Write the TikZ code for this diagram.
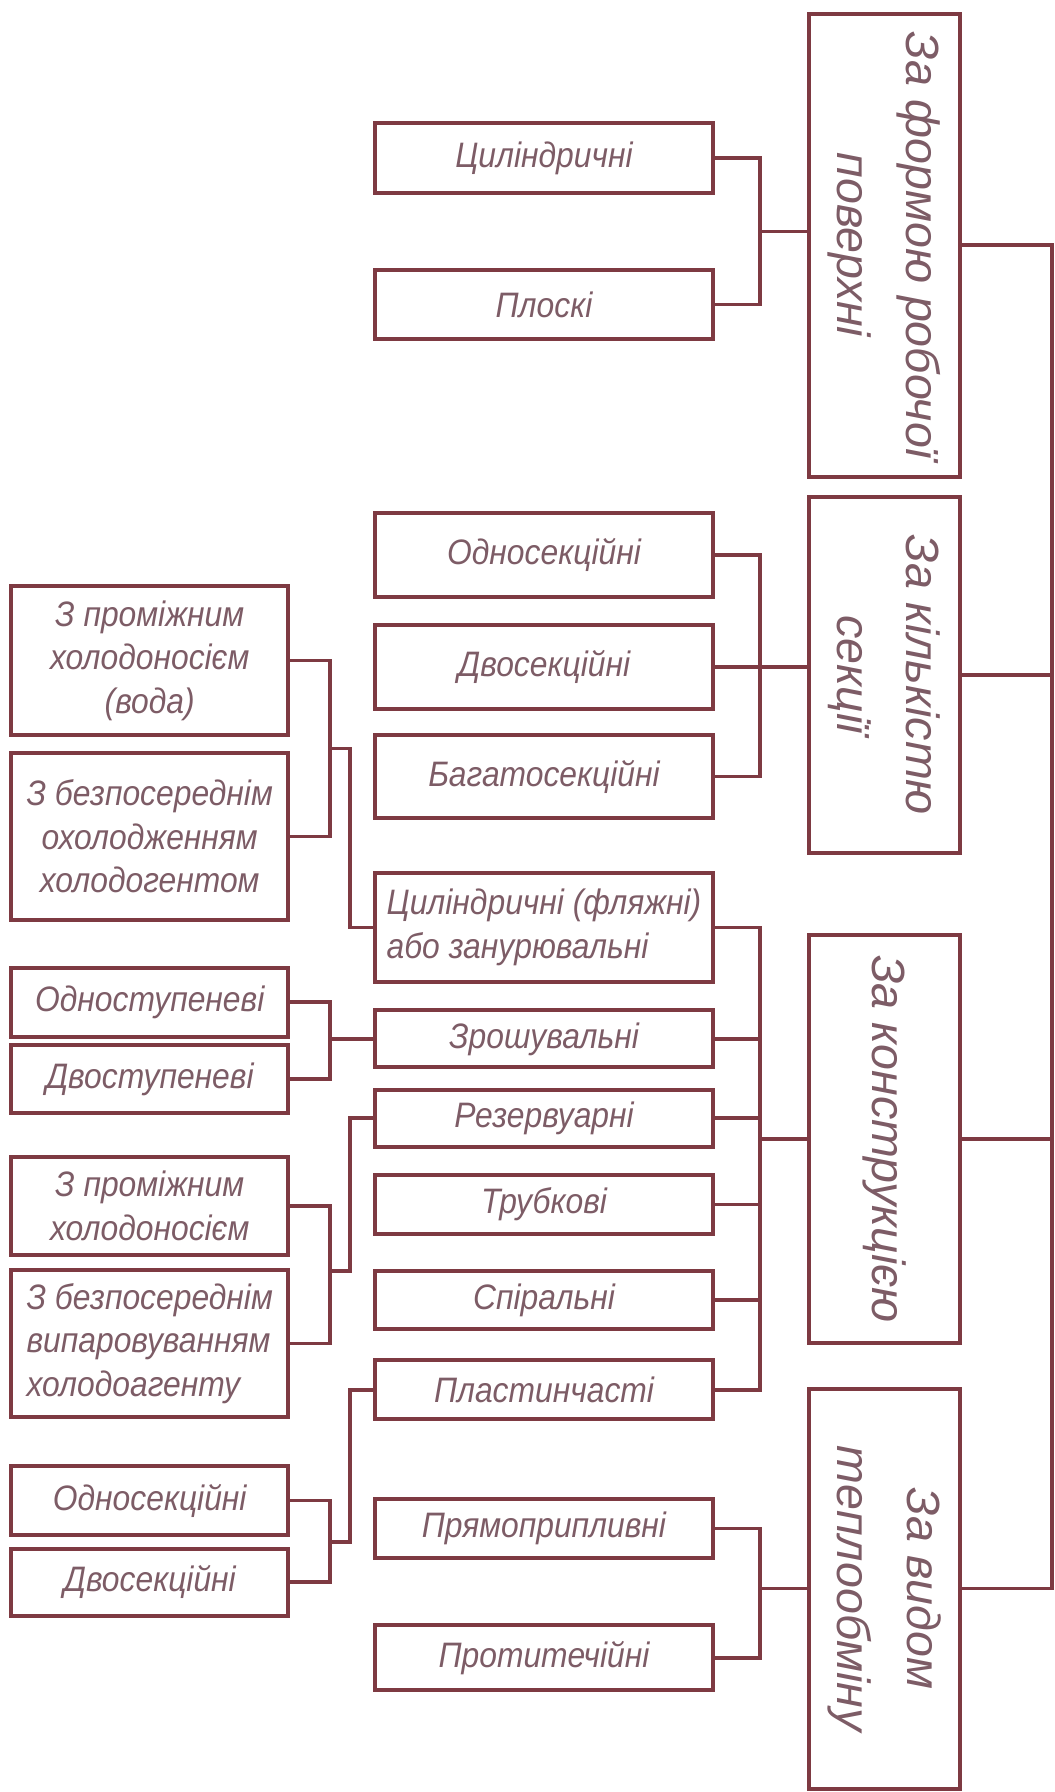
\documentclass[tikz,border=0pt]{standalone}
\usepackage{fontspec}
\setmainfont{Liberation Sans}[FakeStretch=0.9]
\newfontfamily\catfont{Liberation Sans}
\definecolor{frame}{RGB}{126,58,66}
\definecolor{inscr}{RGB}{125,92,102}
\newcommand{\mfont}{\itshape\fontsize{22}{27}\selectfont}
\newcommand{\cfont}{\catfont\itshape\fontsize{29}{43}\selectfont}

\begin{document}
\begin{tikzpicture}[x=0.025cm, y=-0.025cm,
	box/.style={draw=frame, line width=2.5pt, text=inscr, align=center, inner sep=2pt, font=\mfont},
	mid/.style={box, minimum width=7.4cm, minimum height=#1},
	lft/.style={box, minimum width=6.05cm, minimum height=#1},
	cat/.style={box, rotate=-90, minimum height=3.3cm, minimum width=#1, font=\cfont},
	link/.style={draw=frame, line width=2.3pt}]
	
	\useasboundingbox (0,0) rectangle (923,1568);
	
	\node[cat=10.125cm] (form) at (774,214.5) {За формою робочої\\поверхні};
	\node[cat=7.775cm] (sect) at (774,590.5) {За кількістю\\секції};
	\node[cat=8.925cm] (constr) at (774,996.5) {За конструкцією};
	\node[cat=8.75cm] (heat) at (774,1390) {За видом\\теплообміну};
	
	\node[mid=1.525cm] (cyl) at (476,138.5) {Циліндричні};
	\node[mid=1.525cm] (flat) at (476,266.5) {Плоскі};
	
	\node[mid=1.825cm] (one) at (476,485.5) {Односекційні};
	\node[mid=1.825cm] (two) at (476,583.5) {Двосекційні};
	\node[mid=1.825cm] (many) at (476,679.5) {Багатосекційні};
	
	\node[mid=2.375cm, align=left] (imm) at (476,811.5) {Циліндричні (фляжні)\\або занурювальні};
	\node[mid=1.25cm] (irr) at (476,909) {Зрошувальні};
	\node[mid=1.25cm] (tank) at (476,978.5) {Резервуарні};
	\node[mid=1.3cm] (tube) at (476,1054) {Трубкові};
	\node[mid=1.25cm] (spir) at (476,1137.5) {Спіральні};
	\node[mid=1.3cm] (plate) at (476,1216) {Пластинчасті};
	
	\node[mid=1.275cm] (par) at (476,1337.5) {Прямоприпливні};
	\node[mid=1.425cm] (cnt) at (476,1450.5) {Протитечійні};
	
	\node[lft=3.25cm] (water) at (131,578) {З проміжним\\холодоносієм\\(вода)};
	\node[lft=3.65cm] (direct) at (131,732) {З безпосереднім\\охолодженням\\холодогентом};
	\node[lft=1.5cm] (stone) at (131,877) {Одноступеневі};
	\node[lft=1.5cm] (sttwo) at (131,944) {Двоступеневі};
	\node[lft=2.15cm] (brine) at (131,1055) {З проміжним\\холодоносієм};
	\node[lft=3.225cm, align=left] (evap) at (131,1175.5) {З безпосереднім\\випаровуванням\\холодоагенту};
	\node[lft=1.5cm] (secone) at (131,1313) {Односекційні};
	\node[lft=1.475cm] (sectwo) at (131,1384.5) {Двосекційні};
	
	\coordinate (spine) at (920.5,1390);
	\draw[link] (form.north) -| (spine) -- (heat.north);
	\draw[link] (sect.north) -- (sect.north -| spine);
	\draw[link] (constr.north) -- (constr.north -| spine);
	
	\coordinate (busA) at (665,202.5);
	\draw[link] (cyl.east) -| (busA) |- (flat.east);
	\draw[link] (busA) -- (busA -| form.south);
	
	\coordinate (busB) at (665,583.5);
	\draw[link] (one.east) -| (busB) |- (many.east);
	\draw[link] (two.east) -- (two.east -| sect.south);
	
	\coordinate (busC) at (665,996.5);
	\draw[link] (imm.east) -| (busC) |- (plate.east);
	\foreach \n in {irr,tank,tube,spir}
		\draw[link] (\n.east) -- (\n.east -| busC);
	\draw[link] (busC) -- (constr.south);
	
	\coordinate (busD) at (665,1390);
	\draw[link] (par.east) -| (busD) |- (cnt.east);
	\draw[link] (busD) -- (heat.south);
	
	\coordinate (jwa) at (289,655);
	\coordinate (kwa) at (306,655);
	\draw[link] (water.east) -| (jwa) |- (direct.east);
	\draw[link] (jwa) -- (kwa) |- (imm.west);
	
	\coordinate (jst) at (289,909);
	\draw[link] (stone.east) -| (jst) |- (sttwo.east);
	\draw[link] (jst) -- (irr.west);
	
	\coordinate (jbr) at (289,1112);
	\coordinate (kbr) at (306,1112);
	\draw[link] (brine.east) -| (jbr) |- (evap.east);
	\draw[link] (jbr) -- (kbr) |- (tank.west);
	
	\coordinate (jsc) at (289,1349);
	\coordinate (ksc) at (306,1349);
	\draw[link] (secone.east) -| (jsc) |- (sectwo.east);
	\draw[link] (jsc) -- (ksc) |- (plate.west);
	
\end{tikzpicture}
\end{document}
